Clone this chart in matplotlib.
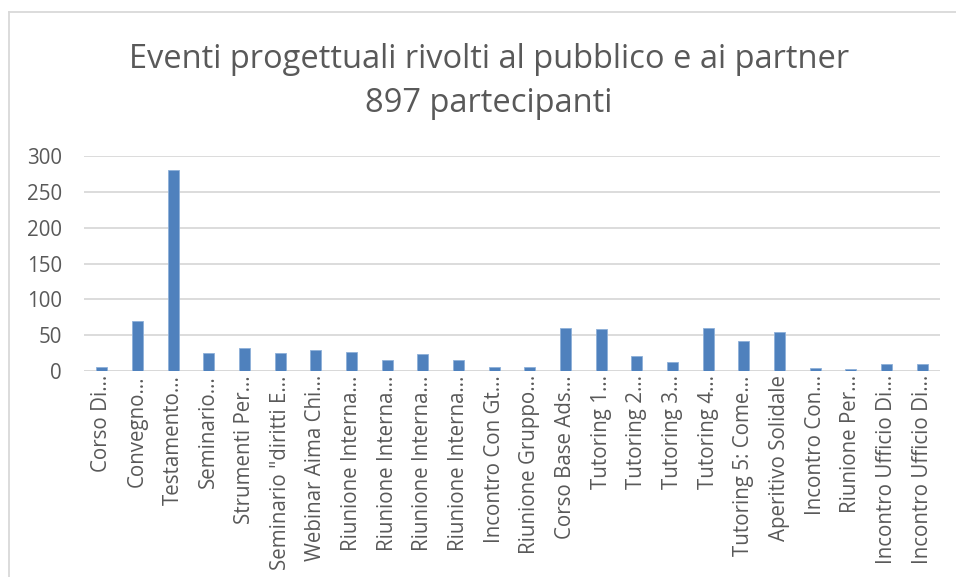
import numpy as np
import matplotlib
matplotlib.use("Agg")
import matplotlib.pyplot as plt
from matplotlib.lines import Line2D

plt.rcParams['font.family'] = ['Open Sans', 'DejaVu Sans']

# categories (truncated as in the original chart) and participants per event
categories = [
    "Corso Di…", "Convegno…", "Testamento…", "Seminario…", "Strumenti Per…",
    "Seminario \"diritti E…", "Webinar Aima Chi…", "Riunione Interna…",
    "Riunione Interna…", "Riunione Interna…", "Riunione Interna…",
    "Incontro Con Gt…", "Riunione Gruppo…", "Corso Base Ads…", "Tutoring 1…",
    "Tutoring 2…", "Tutoring 3…", "Tutoring 4…", "Tutoring 5: Come…",
    "Aperitivo Solidale", "Incontro Con…", "Riunione Per…",
    "Incontro Ufficio Di…", "Incontro Ufficio Di…",
]
participants = [5, 70, 280, 25, 32, 25, 30, 26, 16, 24, 15, 5,
                6, 60, 59, 21, 13, 60, 42, 55, 4, 3, 10, 10]
y_ticks = [0, 50, 100, 150, 200, 250, 300]

title_line1 = "Eventi progettuali rivolti al pubblico e ai partner"
title_line2 = "897 partecipanti"

W, H = 956, 577
fig = plt.figure(figsize=(W / 100, H / 100), dpi=100)

text_col = "#595959"
grid_col = "#d9d9d9"
bar_col = "#4f81bd"

ax = fig.add_axes([84 / W, (H - 371) / H, (940 - 84) / W, (371 - 156) / H])
x = np.arange(len(categories))
ax.bar(x, participants, width=0.31, color=bar_col, edgecolor="#8eb0d9",
       linewidth=0.6, zorder=3)

ax.set_xlim(-0.5, len(categories) - 0.5)
ax.set_ylim(0, 300)
ax.set_yticks(y_ticks)
ax.set_xticks(x)
ax.set_xticklabels(categories, rotation=90, ha="center", va="top")
ax.tick_params(axis="both", length=0, colors=text_col, labelsize=14.8)
ax.tick_params(axis="y", pad=16)
ax.tick_params(axis="x", pad=3)
ax.grid(axis="y", color=grid_col, linewidth=1.3, zorder=0)
for s in ax.spines.values():
    s.set_visible(False)
ax.axhline(0, color=grid_col, linewidth=1.3, zorder=2)

fig.text(489 / W, (H - 60) / H, title_line1, ha="center", va="center",
         fontsize=23.5, color=text_col)
fig.text(489 / W, (H - 104) / H, title_line2, ha="center", va="center",
         fontsize=23.5, color=text_col)

# chart frame (left and top edges visible)
fig.add_artist(Line2D([8.5 / W, 8.5 / W], [0, (H - 12) / H], color=grid_col,
                      linewidth=1.3, transform=fig.transFigure))
fig.add_artist(Line2D([8.5 / W, 1], [(H - 12) / H, (H - 12) / H], color=grid_col,
                      linewidth=1.3, transform=fig.transFigure))

fig.savefig("out.png", dpi=100)
